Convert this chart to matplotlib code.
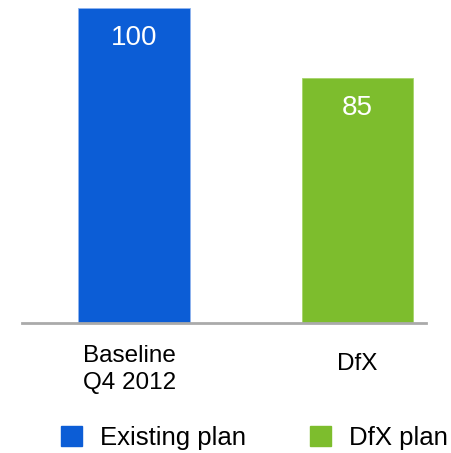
import matplotlib.pyplot as plt
from matplotlib.patches import Patch

# chart data
categories = ["Baseline\nQ4 2012", "DfX"]
values = [100, 85]
series = ["Existing plan", "DfX plan"]
colors = ["#0c5dd6", "#7dbd2d"]

plt.rcParams['font.family'] = ['Liberation Sans', 'DejaVu Sans']

fig = plt.figure(figsize=(4.51, 4.53), dpi=100)
# axes placed in pixel terms: x 22..426, y 8..323 (from top)
ax = fig.add_axes([22 / 451, 130 / 453, 404 / 451, 315 / 453])

x = list(range(len(values)))
bars = ax.bar(x, values, width=0.5, color=colors, edgecolor="#8fb4ee", linewidth=0.6)
bars[1].set_edgecolor("#a6d46a")

ax.set_xlim(-0.501, 1.306)
ax.set_ylim(32.3, 100)

# value labels inside the bars
for xi, v in zip(x, values):
    ax.annotate(str(v), (xi, v), xytext=(0, -30), textcoords="offset pixels",
                ha="center", va="center", color="white", fontsize=20)

# category labels under the axis
label_y = [-0.147, -0.129]
for xi, lab, ly in zip(x, categories, label_y):
    ax.text(xi - 0.02 if "\n" in lab else xi, ly, lab, transform=ax.get_xaxis_transform(),
            ha="center", va="center", multialignment="left", fontsize=17.5,
            linespacing=1.3)

for s in ["top", "right", "left"]:
    ax.spines[s].set_visible(False)
ax.spines["bottom"].set_color("#aaaaaa")
ax.spines["bottom"].set_linewidth(2)
ax.set_xticks([])
ax.set_yticks([])

handles = [Patch(facecolor=c, edgecolor=c) for c in colors]
fig.legend(handles, series, loc="lower left", bbox_to_anchor=(61 / 451, 3 / 453),
           ncol=2, frameon=False, fontsize=18.5, handlelength=0.8, handleheight=0.8,
           handletextpad=0.72, columnspacing=2.5, borderpad=0, borderaxespad=0)

fig.savefig("out.png", dpi=100)
